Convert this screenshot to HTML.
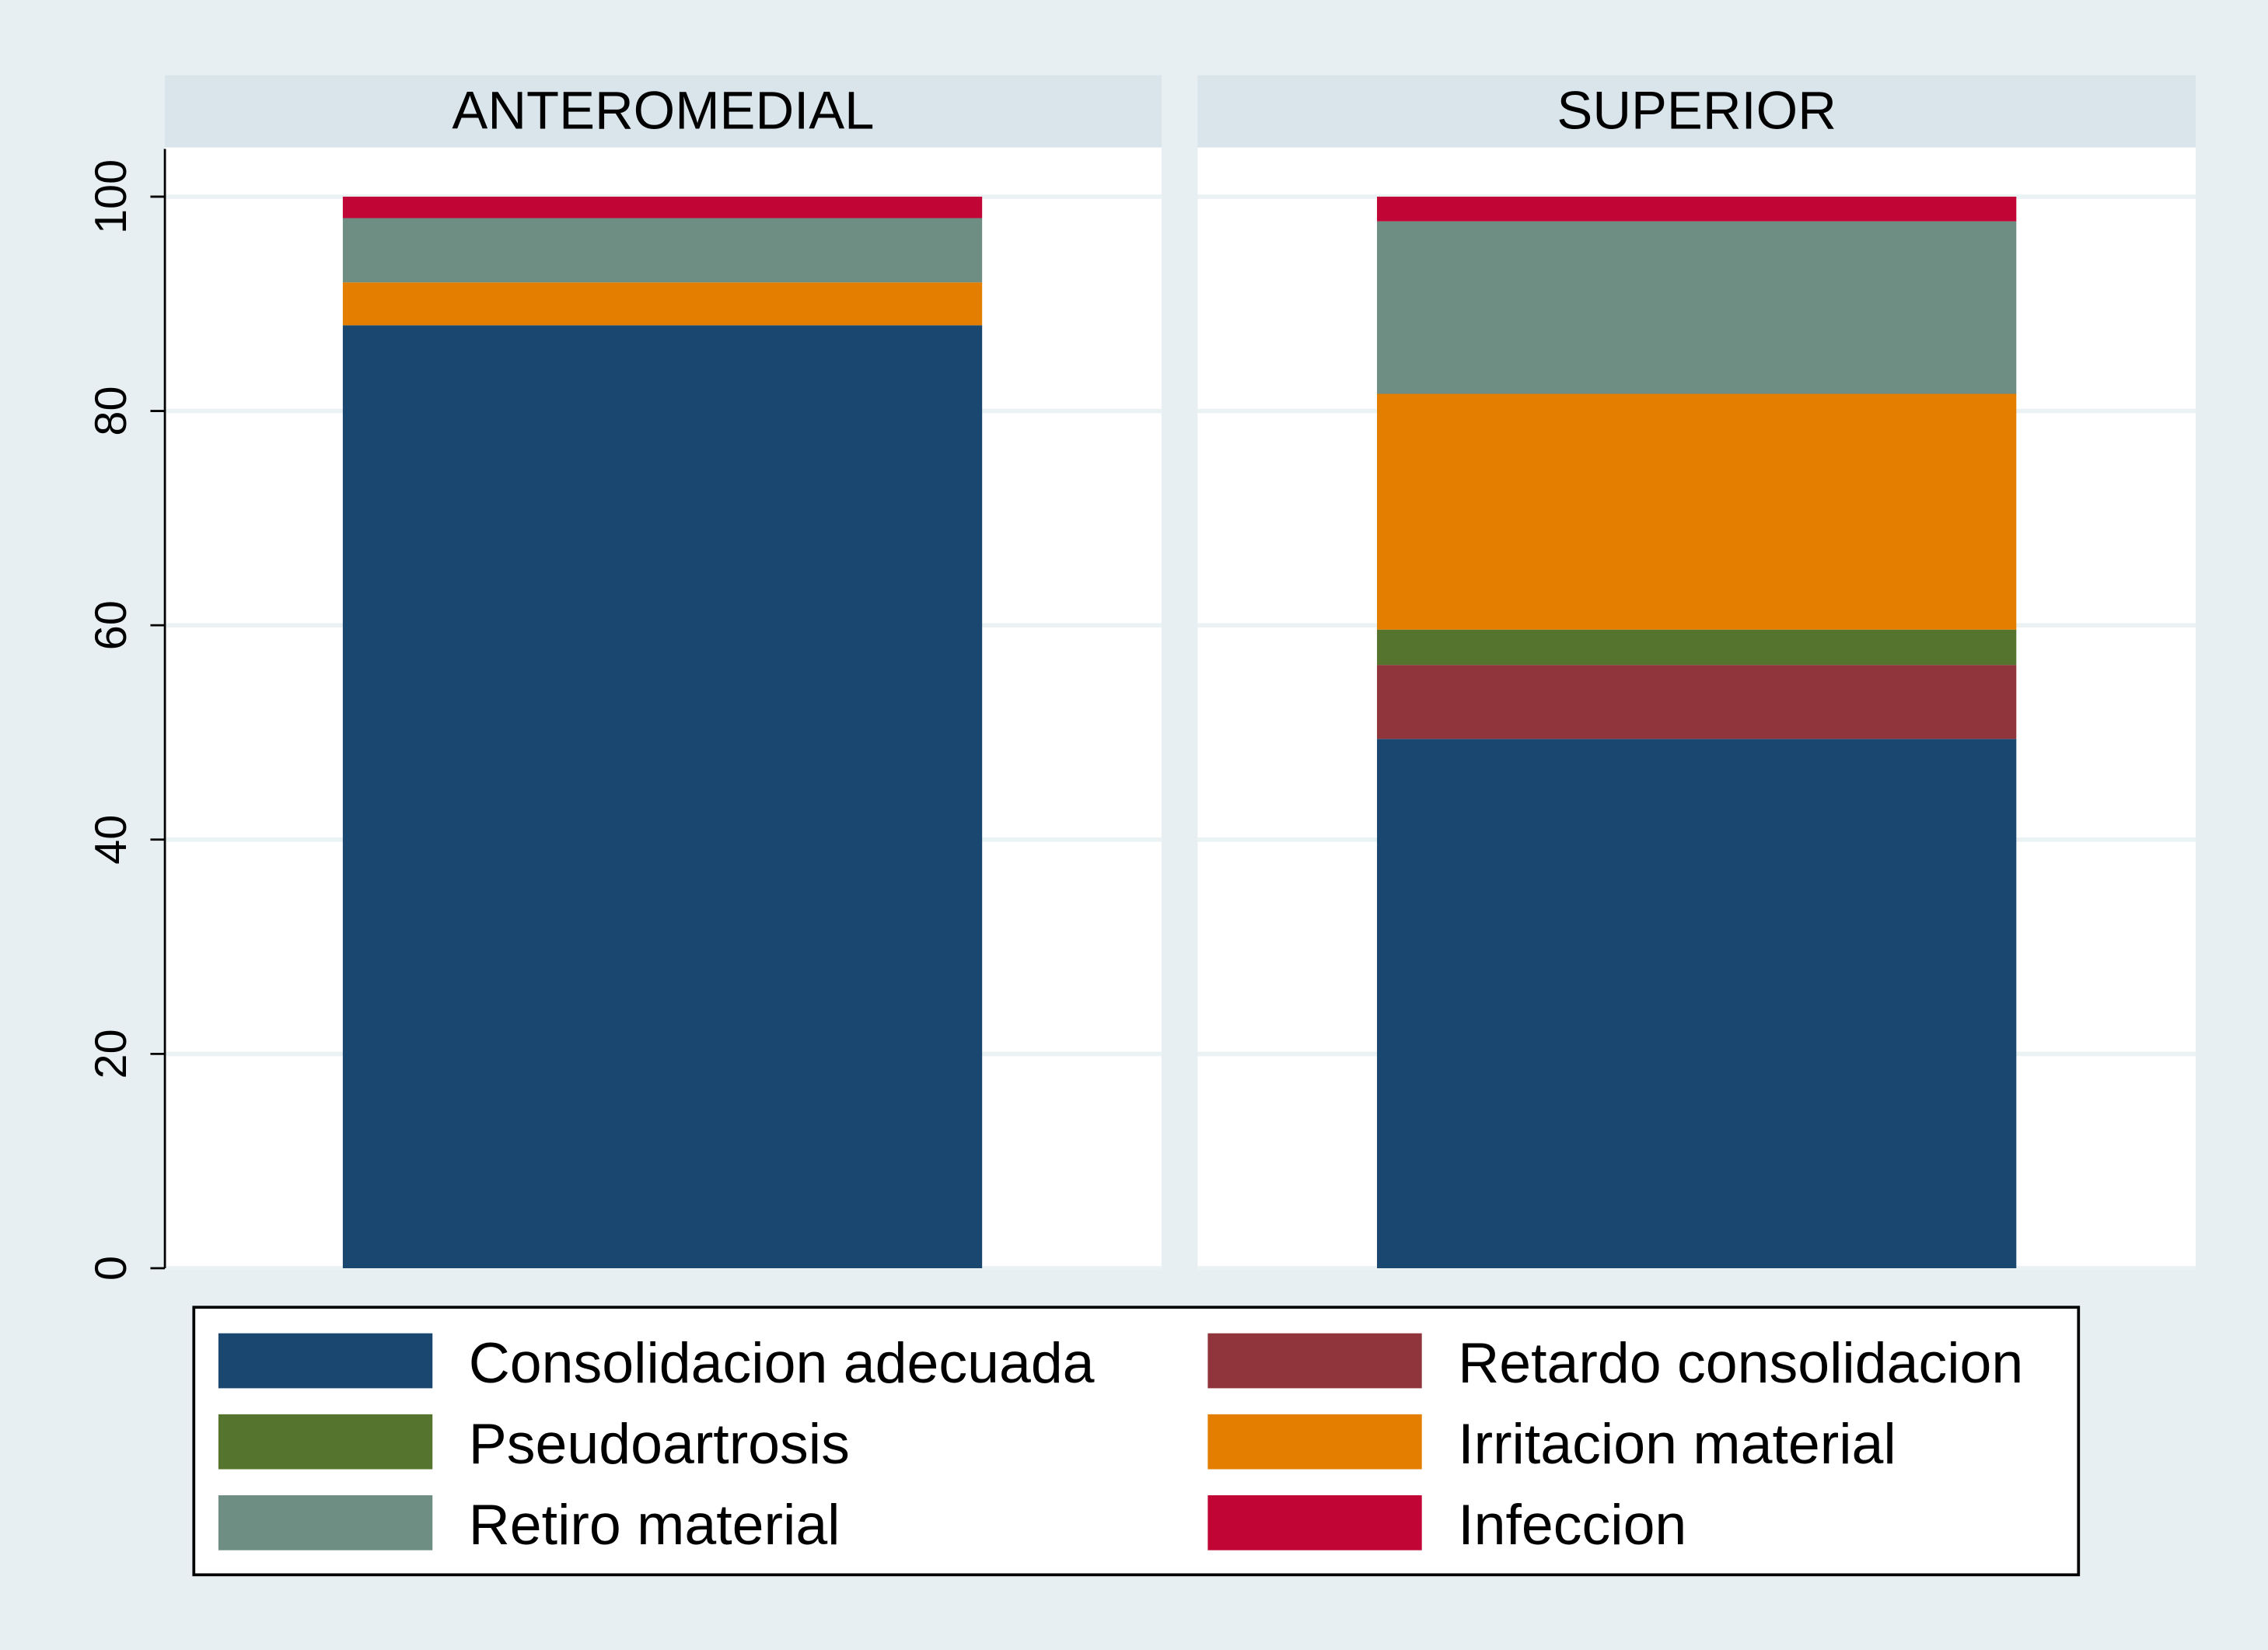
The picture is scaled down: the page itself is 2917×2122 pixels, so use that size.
<!DOCTYPE html>
<html><head><meta charset="utf-8"><style>
html,body{margin:0;padding:0;background:#e8eff2;}
svg{display:block;font-family:"Liberation Sans",sans-serif;}
</style></head><body>
<svg id="chart" width="2917" height="2122" viewBox="0 0 1568 1141" preserveAspectRatio="none">
<rect x="0" y="0" width="1568" height="1141" fill="#e8eff2"/>
<g id="panels"></g>
<g id="legend"></g>
</svg>
<script>
const panels = ["ANTEROMEDIAL", "SUPERIOR"];
const seriesNames = ["Consolidacion adecuada","Retardo consolidacion","Pseudoartrosis","Irritacion material","Retiro material","Infeccion"];
const seriesColors = ["#1a476f","#90353b","#55752f","#e37e00","#6e8e84","#c10534"];
const anteromedial = [88, 0, 0, 4, 6, 2];
const superior = [49.4, 6.9, 3.3, 22, 16.1, 2.3];
const yTicks = [0, 20, 40, 60, 80, 100];

const NS = "http://www.w3.org/2000/svg";
function mk(tag, attrs, parent){const e=document.createElementNS(NS,tag);for(const k in attrs)e.setAttribute(k,attrs[k]);parent.appendChild(e);return e;}
const y0 = 877, y100 = 136;
function yScale(v){return y0 - (y0 - y100) * v / 100;}
const panelX = [[114, 803], [828, 1518]];
const barX = [[237, 679], [952, 1394]];
const data = [anteromedial, superior];
const gp = document.getElementById('panels');

panels.forEach((name, i) => {
  const [x1, x2] = panelX[i];
  const strip = mk('rect', {x:x1, y:52, width:x2-x1, height:50, fill:'#d9e5eb'}, gp);
  
  
  const t = mk('text', {x:(x1+x2)/2, y:89, 'text-anchor':'middle', 'font-size':37, fill:'#000'}, gp);
  t.textContent = name;
  
  
  const pa = mk('rect', {x:x1, y:102, width:x2-x1, height:y0-102, fill:'#ffffff'}, gp);
  
  
  yTicks.forEach(v => {
    const g = mk('line', {x1:x1, x2:x2, y1:yScale(v), y2:yScale(v), stroke:'#eaf2f3', 'stroke-width':3}, gp);
    
    
  });
  let cum = 0;
  data[i].forEach((v, k) => {
    if (v <= 0) return;
    const top = yScale(cum + v), bot = yScale(cum);
    const r = mk('rect', {x:barX[i][0], y:top, width:barX[i][1]-barX[i][0], height:bot-top, fill:seriesColors[k]}, gp);
    
    
    cum += v;
  });
});

const ax = mk('line', {x1:114, x2:114, y1:103, y2:877, stroke:'#000', 'stroke-width':1.5}, gp);


yTicks.forEach(v => {
  const y = yScale(v);
  const tk = mk('line', {x1:104, x2:114, y1:y, y2:y, stroke:'#000', 'stroke-width':1.5}, gp);
  
  
  const tl = mk('text', {x:0, y:0, 'text-anchor':'middle', 'font-size':31, fill:'#000', transform:`translate(87,${y}) rotate(-90)`}, gp);
  tl.textContent = String(v);
  
  
});

const gl = document.getElementById('legend');
const lb = mk('rect', {x:134, y:904, width:1303, height:185, fill:'#fff', stroke:'#000', 'stroke-width':2}, gl);


const legendOrder = [0, 1, 2, 3, 4, 5];
legendOrder.forEach((k, idx) => {
  const col = idx % 2, row = Math.floor(idx / 2);
  const sx = col === 0 ? 151 : 835, tx = col === 0 ? 324 : 1008;
  const cy = 941 + row * 56;
  const sw = mk('rect', {x:sx, y:cy-19, width:148, height:38, fill:seriesColors[k]}, gl);
  
  
  const lt = mk('text', {x:tx, y:cy+15, 'font-size':39.5, fill:'#000'}, gl);
  lt.textContent = seriesNames[k];
  
  
});
</script>
</body></html>
